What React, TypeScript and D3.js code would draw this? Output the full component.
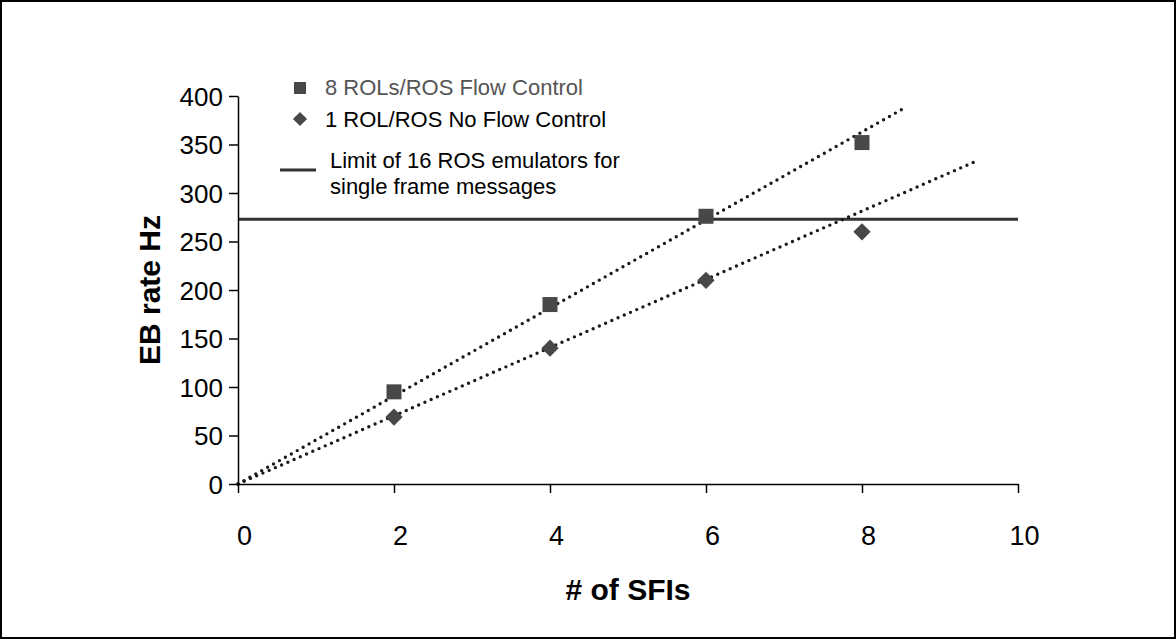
import { useRef, useEffect } from "react";
import * as d3 from "d3";

// values
const sfis = [2, 4, 6, 8];
const flowControl = [95, 185, 276, 352];
const noFlowControl = [69, 140, 210, 260];
const limitHz = 273;
// dotted trend lines: [x, y] start and end as drawn
const trendFlow: [number, number][] = [[0, 0], [8.53, 387]];
const trendNoFlow: [number, number][] = [[0, 0], [9.44, 332]];
const xTicks = [0, 2, 4, 6, 8, 10];
const yTicks = [0, 50, 100, 150, 200, 250, 300, 350, 400];
const legendLabels = [
    "8 ROLs/ROS Flow Control",
    "1 ROL/ROS No Flow Control",
    "Limit of 16 ROS emulators for",
    "single frame messages",
];

const FONT = "'Liberation Sans', Arial, sans-serif";

export default function App() {
    const ref = useRef<SVGSVGElement>(null);

    useEffect(() => {
        if (!ref.current) return;
        const width = 1176;
        const height = 639;
        const left = 238, right = 1018, top = 96, bottom = 484;
        const markerColor = "#484848";

        const x = d3.scaleLinear().domain([0, 10]).range([left, right]);
        const y = d3.scaleLinear().domain([0, 400]).range([bottom, top]);

        const svg = d3.select(ref.current);
        svg.selectAll("*").remove();
        svg.attr("width", width).attr("height", height);

        // outer frame
        svg.append("rect")
            .attr("x", 1).attr("y", 1)
            .attr("width", width - 2).attr("height", height - 2)
            .attr("fill", "white").attr("stroke", "black").attr("stroke-width", 2);

        // limit line
        svg.append("line")
            .attr("x1", x(0)).attr("x2", x(10))
            .attr("y1", y(limitHz)).attr("y2", y(limitHz))
            .attr("stroke", "#333").attr("stroke-width", 3);

        // trend lines
        const line = d3.line<[number, number]>().x((d) => x(d[0])).y((d) => y(d[1]));
        [trendFlow, trendNoFlow].forEach((t) => {
            svg.append("path")
                .attr("d", line(t))
                .attr("fill", "none")
                .attr("stroke", "#1a1a1a")
                .attr("stroke-width", 3.4)
                .attr("stroke-linecap", "round")
                .attr("stroke-dasharray", "0 6.8");
        });

        // axes
        const xAxis = svg.append("g")
            .attr("transform", `translate(0,${bottom})`)
            .call(d3.axisBottom(x).tickValues(xTicks).tickSize(9).tickSizeOuter(0).tickFormat(d3.format("d")));
        xAxis.select(".domain").attr("stroke", "black").attr("stroke-width", 1.5);
        xAxis.selectAll(".tick line").attr("stroke", "black").attr("stroke-width", 1.5);
        xAxis.selectAll(".tick text")
            .attr("font-family", FONT).attr("font-size", 27).attr("fill", "black")
            .attr("dx", 6).attr("y", 61).attr("dy", 0);

        const yAxis = svg.append("g")
            .attr("transform", `translate(${left},0)`)
            .call(d3.axisLeft(y).tickValues(yTicks).tickSize(9).tickSizeOuter(0).tickFormat(d3.format("d")));
        yAxis.select(".domain").attr("stroke", "black").attr("stroke-width", 1.5);
        yAxis.selectAll(".tick line").attr("stroke", "black").attr("stroke-width", 1.5);
        yAxis.selectAll(".tick text")
            .attr("font-family", FONT).attr("font-size", 26).attr("fill", "black")
            .attr("x", -15).attr("dy", "0.35em");

        // markers
        const sq = 15;
        svg.append("g").selectAll("rect")
            .data(sfis)
            .join("rect")
            .attr("x", (d) => x(d) - sq / 2)
            .attr("y", (_, i) => y(flowControl[i]) - sq / 2)
            .attr("width", sq).attr("height", sq)
            .attr("fill", markerColor);

        const diamond = d3.symbol(d3.symbolSquare, 150);
        svg.append("g").selectAll("path")
            .data(sfis)
            .join("path")
            .attr("d", diamond)
            .attr("transform", (d, i) => `translate(${x(d)},${y(noFlowControl[i])}) rotate(45)`)
            .attr("fill", markerColor);

        // legend
        const lg = svg.append("g").attr("font-family", FONT).attr("font-size", 22);
        lg.append("rect").attr("x", 294).attr("y", 82).attr("width", 12).attr("height", 12).attr("fill", markerColor);
        lg.append("text").attr("x", 325).attr("y", 95).attr("fill", "#555").text(legendLabels[0]);
        lg.append("path").attr("d", d3.symbol(d3.symbolSquare, 100)).attr("transform", "translate(300,119) rotate(45)").attr("fill", markerColor);
        lg.append("text").attr("x", 325).attr("y", 127).attr("fill", "black").text(legendLabels[1]);
        lg.append("line").attr("x1", 280).attr("x2", 316).attr("y1", 170).attr("y2", 170).attr("stroke", "#333").attr("stroke-width", 3);
        lg.append("text").attr("x", 330).attr("y", 168).attr("fill", "black").text(legendLabels[2]);
        lg.append("text").attr("x", 330).attr("y", 194).attr("fill", "black").text(legendLabels[3]);

        // axis titles
        svg.append("text")
            .attr("x", 628).attr("y", 600)
            .attr("text-anchor", "middle")
            .attr("font-family", FONT).attr("font-size", 30).attr("font-weight", "bold")
            .text("# of SFIs");
        svg.append("text")
            .attr("transform", `translate(160,${(top + bottom) / 2}) rotate(-90)`)
            .attr("text-anchor", "middle")
            .attr("font-family", FONT).attr("font-size", 30).attr("font-weight", "bold")
            .text("EB rate Hz");
    });

    return (
        <div style={{ position: "absolute", left: 0, top: 0 }}>
            <svg ref={ref} style={{ display: "block" }}></svg>
        </div>
    );
}
